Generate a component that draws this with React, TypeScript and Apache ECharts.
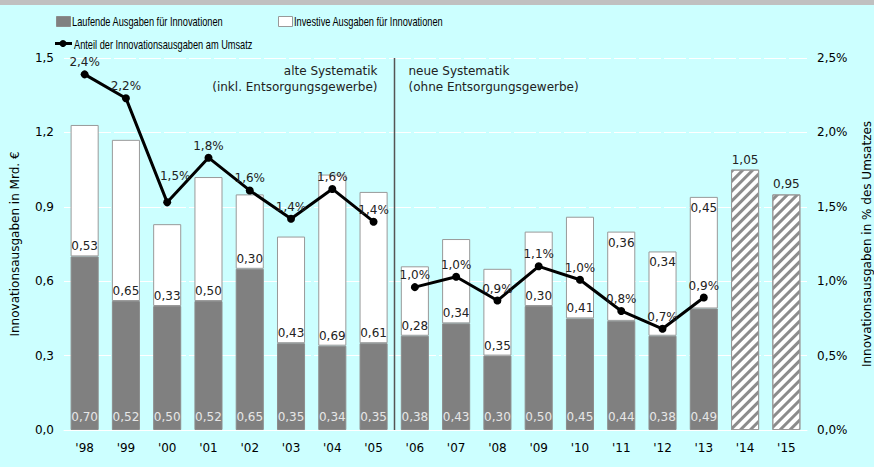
import React, { useEffect, useRef } from "react";
import * as echarts from "echarts";

const categories = ["'98", "'99", "'00", "'01", "'02", "'03", "'04", "'05", "'06", "'07", "'08", "'09", "'10", "'11", "'12", "'13", "'14", "'15"];
const laufende = [0.70, 0.52, 0.50, 0.52, 0.65, 0.35, 0.34, 0.35, 0.38, 0.43, 0.30, 0.50, 0.45, 0.44, 0.38, 0.49, null, null];
const investive = [0.53, 0.65, 0.33, 0.50, 0.30, 0.43, 0.69, 0.61, 0.28, 0.34, 0.35, 0.30, 0.41, 0.36, 0.34, 0.45, null, null];
const prognose = [null, null, null, null, null, null, null, null, null, null, null, null, null, null, null, null, 1.05, 0.95];
const anteilAlt = [2.39, 2.23, 1.53, 1.83, 1.61, 1.42, 1.62, 1.40, null, null, null, null, null, null, null, null, null, null];
const anteilNeu = [null, null, null, null, null, null, null, null, 0.96, 1.03, 0.87, 1.10, 1.01, 0.80, 0.68, 0.89, null, null];
const leftTicks = { min: 0, max: 1.5, interval: 0.3 };
const rightTicks = { min: 0, max: 2.5, interval: 0.5 };

const NAME_L = "Laufende Ausgaben für Innovationen";
const NAME_I = "Investive Ausgaben für Innovationen";
const NAME_A = "Anteil der Innovationsausgaben am Umsatz";

const FONT = "'DejaVu Sans', Verdana, sans-serif";
const LEGEND_FONT = "12px 'Liberation Sans', Arial, sans-serif";

const comma = (v: number, d: number) => v.toFixed(d).replace(".", ",");

// investive labels sitting at the top of the white segment (indices)
const investiveTopIdx = [13, 14, 15];

export default function App() {
  const ref = useRef<HTMLDivElement>(null);
  useEffect(() => {
    if (!ref.current) return;
    const chart = echarts.init(ref.current, undefined, { renderer: "svg" });
    const investiveData = investive.map((v, i) =>
      investiveTopIdx.includes(i) ? { value: v, label: { position: "insideTop", distance: 5 } } : v
    );
    const anteilAltData = anteilAlt.map((v, i) => (i === 2 ? { value: v, label: { offset: [8, -14] } } : v));
    chart.setOption({
      animation: false,
      backgroundColor: "#ccffff",
      textStyle: { fontFamily: FONT },
      grid: { left: 64, right: 67, top: 58, bottom: 37, containLabel: false, outerBoundsMode: "none" },
      xAxis: {
        type: "category",
        data: categories,
        axisLine: { lineStyle: { color: "#ffffff", width: 1 } },
        axisTick: { show: false },
        axisLabel: { color: "#000", fontSize: 12, margin: 12, fontFamily: FONT },
      },
      yAxis: [
        {
          type: "value",
          ...leftTicks,
          name: "Innovationsausgaben in Mrd. €",
          nameLocation: "middle",
          nameGap: 43,
          nameRotate: 90,
          nameTextStyle: { color: "#000", fontSize: 12, fontFamily: FONT },
          axisLabel: { color: "#000", fontSize: 12, margin: 10, formatter: (v: number) => comma(v, 1) },
          splitLine: { lineStyle: { color: "#ffffff", type: [22, 3], width: 1 } },
          axisLine: { show: false },
          axisTick: { show: false },
        },
        {
          type: "value",
          ...rightTicks,
          name: "Innovationsausgaben in % des Umsatzes",
          nameLocation: "middle",
          nameGap: 54,
          nameRotate: 90,
          nameTextStyle: { color: "#000", fontSize: 12, fontFamily: FONT },
          axisLabel: { color: "#000", fontSize: 12, margin: 10, formatter: (v: number) => comma(v, 1) + "%" },
          splitLine: { show: false },
          axisLine: { show: false },
          axisTick: { show: false },
        },
      ],
      series: [
        {
          name: NAME_L,
          type: "bar",
          stack: "a",
          data: laufende,
          barCategoryGap: "32%",
          itemStyle: { color: "#808080", borderColor: "#8c8c8c", borderWidth: 1 },
          label: {
            show: true,
            position: "insideBottom",
            distance: 7,
            color: "#e6e6e6",
            fontSize: 12,
            formatter: (p: any) => (p.value == null ? "" : comma(p.value, 2)),
          },
        },
        {
          name: NAME_I,
          type: "bar",
          stack: "a",
          data: investiveData,
          itemStyle: { color: "#ffffff", borderColor: "#999999", borderWidth: 1 },
          label: {
            show: true,
            position: "insideBottom",
            distance: 4,
            color: "#222",
            fontSize: 12,
            formatter: (p: any) => (p.value == null ? "" : comma(p.value, 2)),
          },
        },
        {
          name: "Prognose",
          type: "bar",
          stack: "a",
          data: prognose,
          itemStyle: {
            color: "#ffffff",
            borderColor: "#999999",
            borderWidth: 1,
            decal: {
              symbol: "rect",
              symbolSize: 1,
              dashArrayX: [1, 0],
              dashArrayY: [3, 4],
              rotation: -Math.PI / 4,
              color: "#8c8c8c",
            },
          },
          label: {
            show: true,
            position: "top",
            distance: 4,
            color: "#222",
            fontSize: 12,
            formatter: (p: any) => (p.value == null ? "" : comma(p.value, 2)),
          },
        },
        {
          name: NAME_A,
          type: "line",
          yAxisIndex: 1,
          data: anteilAltData,
          connectNulls: false,
          symbol: "circle",
          symbolSize: 8,
          lineStyle: { color: "#000", width: 3 },
          itemStyle: { color: "#000" },
          label: {
            show: true,
            position: "top",
            distance: 2,
            color: "#222",
            fontSize: 12,
            formatter: (p: any) => (p.value == null ? "" : comma(p.value, 1) + "%"),
          },
        },
        {
          name: NAME_A,
          type: "line",
          yAxisIndex: 1,
          data: anteilNeu,
          connectNulls: false,
          symbol: "circle",
          symbolSize: 8,
          lineStyle: { color: "#000", width: 3 },
          itemStyle: { color: "#000" },
          label: {
            show: true,
            position: "top",
            distance: 2,
            color: "#222",
            fontSize: 12,
            formatter: (p: any) => (p.value == null ? "" : comma(p.value, 1) + "%"),
          },
        },
      ],
    });

    const x5 = chart.convertToPixel({ xAxisIndex: 0 }, 7) as number;
    const x6 = chart.convertToPixel({ xAxisIndex: 0 }, 8) as number;
    const xd = Math.round((x5 + x6) / 2) + 0.5;
    const yTop = chart.convertToPixel({ yAxisIndex: 0 }, 1.5) as number;
    const yBot = chart.convertToPixel({ yAxisIndex: 0 }, 0) as number;
    const legendText = (x: number, y: number, text: string) => ({
      type: "text",
      x,
      y,
      scaleX: 0.77,
      style: { text, align: "left", verticalAlign: "middle", fill: "#000", font: LEGEND_FONT },
    });
    chart.setOption({
      graphic: [
        { type: "rect", left: 0, top: 0, shape: { width: 874, height: 5 }, style: { fill: "#c0c0c0" } },
        // legend
        { type: "rect", shape: { x: 56.5, y: 16.5, width: 14, height: 10 }, style: { fill: "#808080", stroke: "#8c8c8c", lineWidth: 1 } },
        legendText(72, 21.5, NAME_L),
        { type: "rect", shape: { x: 278.5, y: 16.5, width: 14, height: 10 }, style: { fill: "#ffffff", stroke: "#999999", lineWidth: 1 } },
        legendText(294, 21.5, NAME_I),
        { type: "line", shape: { x1: 55, y1: 43.5, x2: 72, y2: 43.5 }, style: { stroke: "#000", lineWidth: 3 } },
        { type: "circle", shape: { cx: 63, cy: 43.5, r: 3.5 }, style: { fill: "#000" } },
        legendText(74, 44.5, NAME_A),
        // divider and annotations
        { type: "line", shape: { x1: xd, y1: yTop, x2: xd, y2: yBot }, style: { stroke: "#555555", lineWidth: 1.5 } },
        { type: "text", x: xd - 17, y: yTop + 7, style: { text: "alte Systematik", align: "right", fill: "#222", font: `12px ${FONT}` } },
        { type: "text", x: xd - 17, y: yTop + 23, style: { text: "(inkl. Entsorgungsgewerbe)", align: "right", fill: "#222", font: `12px ${FONT}` } },
        { type: "text", x: xd + 14, y: yTop + 7, style: { text: "neue Systematik", align: "left", fill: "#222", font: `12px ${FONT}` } },
        { type: "text", x: xd + 14, y: yTop + 23, style: { text: "(ohne Entsorgungsgewerbe)", align: "left", fill: "#222", font: `12px ${FONT}` } },
      ],
    });
    return () => chart.dispose();
  }, []);
  return <div ref={ref} style={{ position: "fixed", left: 0, top: 0, width: 874, height: 467 }} />;
}
